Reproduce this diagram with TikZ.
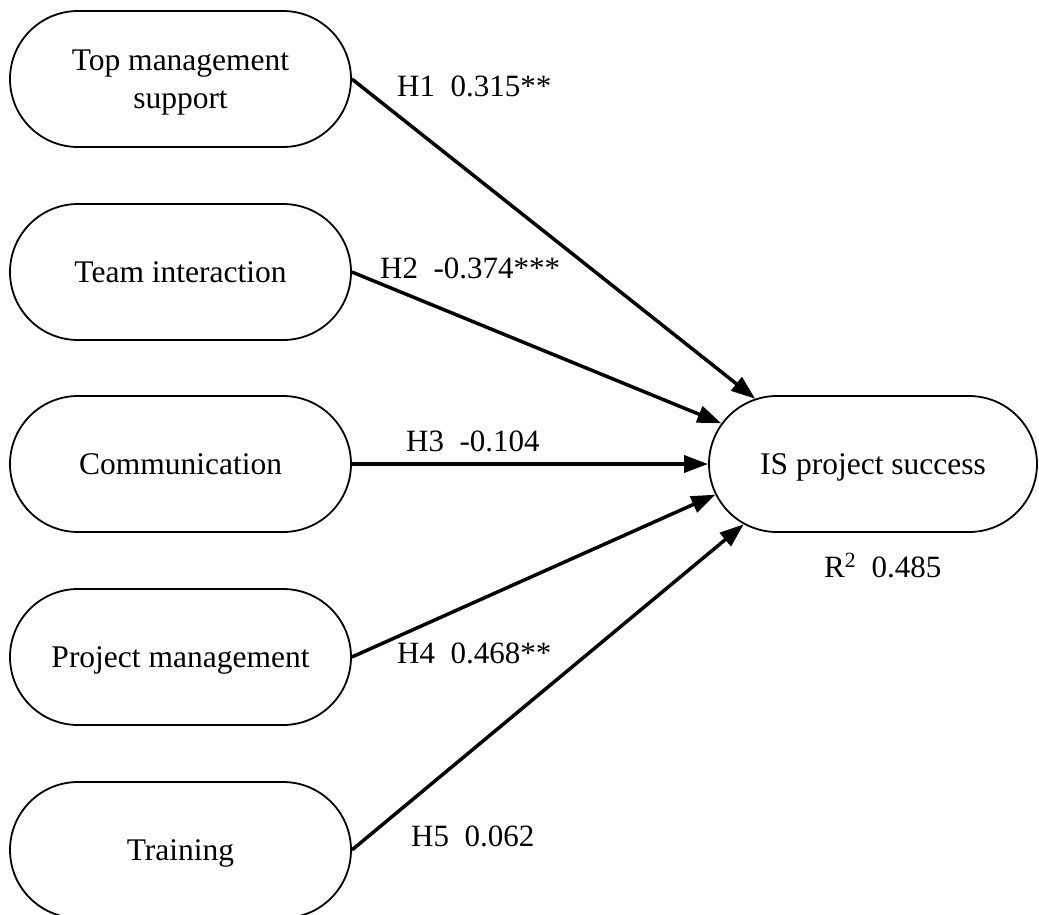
\documentclass[tikz,border=0pt]{standalone}
\usepackage{fontspec}
\setmainfont{Liberation Serif}
\usetikzlibrary{shapes.misc,arrows.meta}
\begin{document}
\begin{tikzpicture}[x=1pt,y=-1pt,
  latent/.style={rounded rectangle, draw, line width=1.8pt, minimum width=341pt,
    minimum height=136pt, inner sep=0pt, align=center, text depth=0pt,
    font=\fontsize{31.5}{38}\selectfont},
  effect/.style={line width=3.5pt, -{Triangle[length=24pt,width=17pt]}},
  lbl/.style={anchor=base west, inner sep=0pt, font=\fontsize{31}{36}\selectfont}]
\fill[white] (0,0) rectangle (1039,914);
\useasboundingbox (0,0) rectangle (1039,914);
\node[latent] (tms) at (180.5,79) {Top management\\support};
\node[latent] (ti) at (180.5,272) {Team interaction};
\node[latent] (com) at (180.5,464) {Communication};
\node[latent] (pm) at (180.5,657) {Project management};
\node[latent] (tr) at (180.5,850) {Training};
\node[latent, minimum width=328pt] (is) at (873,464) {IS project success};
\draw[effect] (tms.east) -- (is.151);
\draw[effect] (ti.east) -- (is.165);
\draw[effect] (com.east) -- (is.west);
\draw[effect] (pm.east) -- (is.191);
\draw[effect] (tr.east) -- (is.205);
\node[lbl] (l1) at (397,96) {H1\ \ 0.315**};
\node[lbl] (l2) at (380,278) {H2\ \ -0.374***};
\node[lbl] (l3) at (406,451) {H3\ \ -0.104};
\node[lbl] (l4) at (397,663) {H4\ \ 0.468**};
\node[lbl] (l5) at (411,846) {H5\ \ 0.062};
\node[lbl] (r2) at (824,577) {R\textsuperscript{2}\ \ 0.485};
\end{tikzpicture}
\end{document}
